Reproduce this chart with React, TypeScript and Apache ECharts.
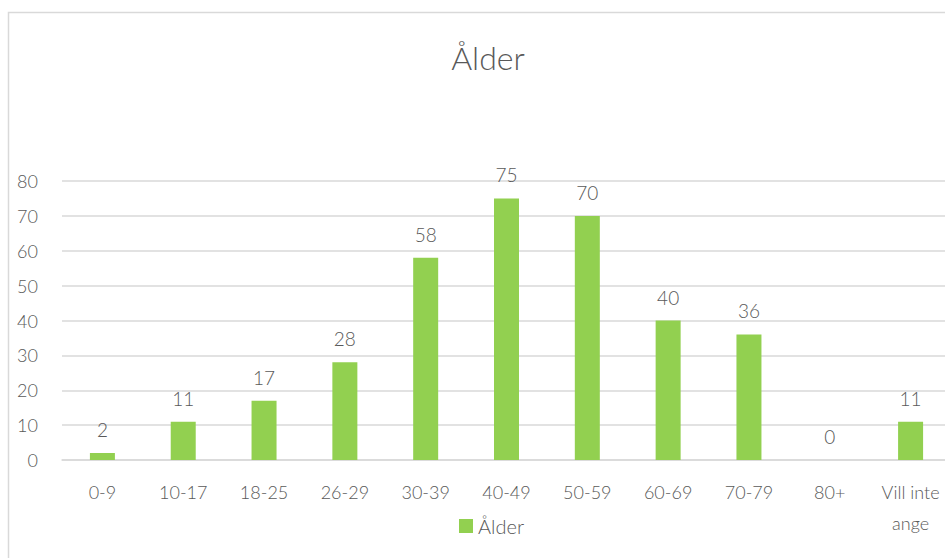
import React, { useEffect, useRef } from "react";
import * as echarts from "echarts";

const categories = ["0-9", "10-17", "18-25", "26-29", "30-39", "40-49", "50-59", "60-69", "70-79", "80+", "Vill inte\nange"];
const values = [2, 11, 17, 28, 58, 75, 70, 40, 36, 0, 11];
const seriesName = "Ålder";
const titleText = "Ålder";

const FONT = "Lato, 'Open Sans', sans-serif";
const TEXT = "#595959";

export default function App() {
  const ref = useRef<HTMLDivElement>(null);
  useEffect(() => {
    if (!ref.current) return;
    const chart = echarts.init(ref.current, null, { renderer: "svg" });
    chart.setOption({
      animation: false,
      backgroundColor: "#ffffff",
      title: {
        text: titleText,
        left: 483,
        textAlign: "center",
        top: 36,
        textStyle: { fontFamily: FONT, fontSize: 32, fontWeight: 300, color: TEXT },
      },
      graphic: [
        {
          type: "rect",
          shape: { x: 8.5, y: 12.5, width: 1000, height: 700 },
          style: { fill: "none", stroke: "#d9d9d9", lineWidth: 1.5 },
          silent: true,
        },
      ],
      legend: {
        top: 511,
        left: 454,
        itemWidth: 14,
        itemHeight: 14,
        itemGap: 6,
        icon: "rect",
        textStyle: { fontFamily: FONT, fontSize: 20, fontWeight: 300, color: TEXT },
        data: [seriesName],
      },
      grid: { left: 62, width: 889, top: 181, height: 279, containLabel: false },
      xAxis: {
        type: "category",
        data: categories,
        axisLine: { show: true, lineStyle: { color: "#d9d9d9", width: 1.5 } },
        axisTick: { show: false },
        axisLabel: {
          fontFamily: FONT,
          fontSize: 18,
          fontWeight: 300,
          color: TEXT,
          margin: 16,
          lineHeight: 31,
          interval: 0,
        },
      },
      yAxis: {
        type: "value",
        min: 0,
        max: 80,
        interval: 10,
        axisLine: { show: false },
        axisTick: { show: false },
        splitLine: { lineStyle: { color: "#d9d9d9", width: 1.5 } },
        axisLabel: { fontFamily: FONT, fontSize: 18, fontWeight: 300, color: TEXT, margin: 24 },
      },
      series: [
        {
          name: seriesName,
          type: "bar",
          data: values,
          barWidth: 25,
          itemStyle: { color: "#92d050" },
          label: {
            show: true,
            position: "top",
            distance: 14,
            fontFamily: FONT,
            fontSize: 19,
            fontWeight: 300,
            color: TEXT,
          },
        },
      ],
    });
    return () => chart.dispose();
  }, []);
  return (
    <div
      style={{ position: "fixed", left: 0, top: 0, width: 945, height: 558, overflow: "hidden" }}
    >
      <div ref={ref} style={{ width: 970, height: 558 }} />
    </div>
  );
}
